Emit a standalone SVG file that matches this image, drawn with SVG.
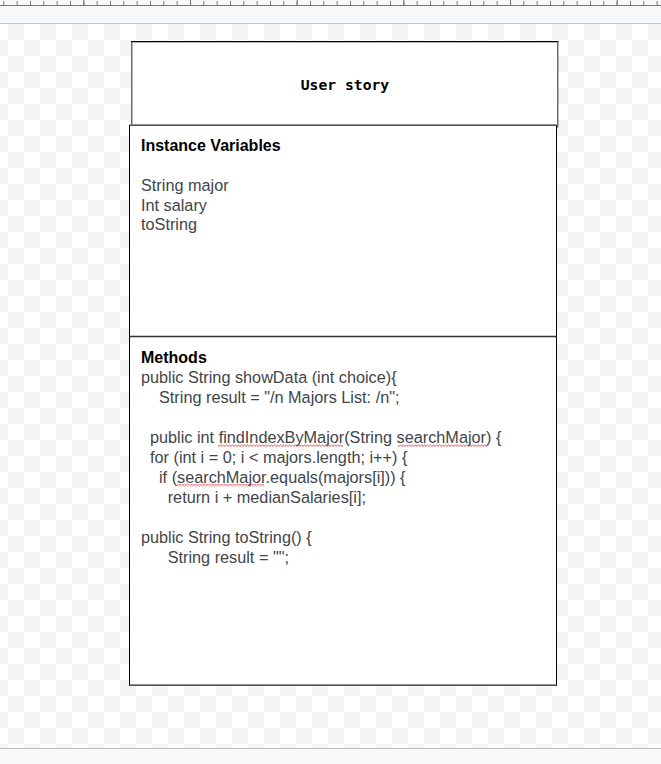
<svg xmlns="http://www.w3.org/2000/svg" width="661" height="764" viewBox="0 0 661 764">
  <style>
    .head { font-family: "Liberation Sans", Arial, sans-serif; font-size: 16px; font-weight: bold; fill: #000; }
    .body { font-family: "Liberation Sans", Arial, sans-serif; font-size: 16.25px; fill: #41454a; }
    .mono { font-family: "DejaVu Sans Mono", "Liberation Mono", monospace; font-size: 14.7px; font-weight: bold; fill: #000; }
    .tick { stroke: #757575; stroke-width: 1; }
  </style>
  <defs>
    <pattern id="checker" patternUnits="userSpaceOnUse" x="8" y="24" width="32" height="32">
      <rect x="0" y="0" width="32" height="32" fill="#ffffff"/>
      <rect x="0" y="0" width="16" height="16" fill="#f5f5f5"/>
      <rect x="16" y="16" width="16" height="16" fill="#f5f5f5"/>
    </pattern>
    <pattern id="ticks" patternUnits="userSpaceOnUse" x="3.33" y="0" width="13.333" height="6">
      <line x1="0.5" y1="1" x2="0.5" y2="5" class="tick"/>
    </pattern>
    <pattern id="bigticks" patternUnits="userSpaceOnUse" x="83.33" y="0" width="106.667" height="6">
      <line x1="0.5" y1="0" x2="0.5" y2="5" class="tick"/>
    </pattern>
    <pattern id="squiggle" patternUnits="userSpaceOnUse" x="0" y="0" width="3" height="3">
      <polyline points="0,2.4 1.5,1 3,2.4" fill="none" stroke="#e0393e" stroke-width="0.9"/>
    </pattern>
  </defs>

  <!-- page chrome -->
  <g id="chrome">
    <rect x="0" y="0" width="661" height="764" fill="#f8f9fb"/>
    <rect x="0" y="24" width="661" height="724" fill="url(#checker)"/>
    <rect x="0" y="0" width="661" height="5" fill="url(#ticks)"/>
    <rect x="0" y="0" width="661" height="5" fill="url(#bigticks)"/>
    <line x1="0" y1="5.5" x2="661" y2="5.5" stroke="#757575" stroke-width="1"/>
    <line x1="0" y1="23.5" x2="661" y2="23.5" stroke="#c6c6c6" stroke-width="1"/>
    <line x1="0" y1="748.5" x2="661" y2="748.5" stroke="#bdbdbd" stroke-width="1"/>
  </g>

  <g id="connectors"/>

  <!-- User story node -->
  <g id="user-story">
    <rect x="131.75" y="41.75" width="426" height="85" fill="#ffffff" stroke="#6e6e6e" stroke-width="1.5"/>
    <line x1="131" y1="41.5" x2="558.5" y2="41.5" stroke="#000" stroke-width="1"/>
    <text x="345" y="90" text-anchor="middle" class="mono">User story</text>
  </g>

  <!-- Class node -->
  <g id="class-box">
    <rect x="129.5" y="125.5" width="427" height="560" fill="#ffffff" stroke="#000" stroke-width="1"/>
    <line x1="129.5" y1="125" x2="556.5" y2="125" stroke="#6e6e6e" stroke-width="1.5"/>
    <line x1="129.5" y1="685" x2="556.5" y2="685" stroke="#6e6e6e" stroke-width="1.5"/>
    <line x1="129.5" y1="336.5" x2="556.5" y2="336.5" stroke="#333" stroke-width="1.6"/>
  </g>

  <g id="instance-variables">
    <text x="141" y="151" class="head">Instance Variables</text>
    <text x="141" y="191" class="body">String major</text>
    <text x="141" y="210.5" class="body">Int salary</text>
    <text x="141" y="230" class="body">toString</text>
  </g>

  <g id="methods">
    <text x="141" y="363" class="head">Methods</text>
    <text x="141" y="383" class="body">public String showData (int choice){</text>
    <text x="159" y="403" class="body">String result = "/n Majors List: /n";</text>
    <text x="150" y="443" class="body">public int findIndexByMajor(String searchMajor) {</text>
    <text x="150" y="463" class="body">for (int i = 0; i &lt; majors.length; i++) {</text>
    <text x="159" y="483" class="body">if (searchMajor.equals(majors[i])) {</text>
    <text x="167.7" y="503" class="body">return i + medianSalaries[i];</text>
    <text x="141" y="543" class="body">public String toString() {</text>
    <text x="167.7" y="563" class="body">String result = "";</text>
  </g>

  <g id="spellcheck">
    <rect x="218" y="444" width="125" height="3" fill="url(#squiggle)"/>
    <rect x="398" y="444" width="90" height="3" fill="url(#squiggle)"/>
    <rect x="177" y="484" width="87" height="3" fill="url(#squiggle)"/>
  </g>
</svg>
